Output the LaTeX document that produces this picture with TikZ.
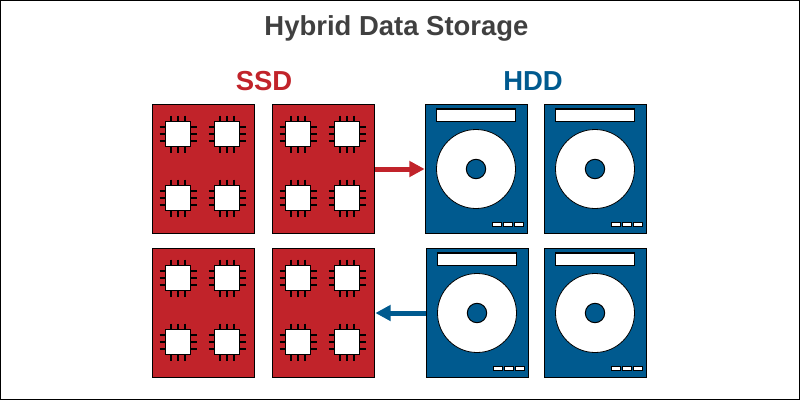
\documentclass[tikz,border=0pt]{standalone}
\usepackage{fontspec}
\setmainfont{Liberation Sans}
\usetikzlibrary{arrows.meta}
\definecolor{ssdred}{HTML}{C1232A}
\definecolor{hddblue}{HTML}{005A8F}
\definecolor{titlegray}{HTML}{404040}
\tikzset{
	ssdbox/.style={draw=black,line width=0.9pt,fill=ssdred,minimum width=76.5pt,minimum height=97pt,inner sep=0pt},
	hddbox/.style={draw=black,line width=0.9pt,fill=hddblue,minimum width=76.5pt,minimum height=97pt,inner sep=0pt},
	whitepart/.style={draw=black,line width=0.9pt,fill=white},
	headtext/.style={font=\bfseries\fontsize{20.6}{23}\selectfont},
	chip/.pic={
		\foreach \k in {-7,0,7} {
			\draw [line width=1.6pt] (\k,-18.5) -- (\k,18.5);
			\draw [line width=1.6pt] (-18.5,\k) -- (18.5,\k);
		}
		\draw [whitepart] (-12.5,-12.5) rectangle (12.5,12.5);
	},
	ssd/.pic={
		\foreach \a in {-25.5,23.5} {
			\foreach \b in {-35,29} {
				\pic at (\a,\b) {chip};
			}
		}
	},
	hdd/.pic={
		\draw [whitepart] (-40.2,-60) rectangle (39.2,-47.5);
		\draw [whitepart,line width=0.6pt] (-0.5,0) circle (39.5);
		\draw [draw=black,line width=0.75pt,fill=hddblue] (-0.5,0) circle (9.7);
		\draw [whitepart,line width=0.75pt] (16,53) rectangle (24.5,57.5);
		\draw [whitepart,line width=0.75pt] (27,53) rectangle (35.5,57.5);
		\draw [whitepart,line width=0.75pt] (38,53) rectangle (46.5,57.5);
	}
}
\begin{document}
\begin{tikzpicture}[line cap=butt,line join=miter,x=0.75pt,y=-0.75pt]
	\useasboundingbox (0,0) rectangle (800,400);
	\draw [line width=0.75pt] (0.5,0.5) rectangle (799.5,399.5);
	% Titles
	\node [headtext,text=titlegray] (title) at (396.5,28) {Hybrid Data Storage};
	\node [headtext,text=ssdred] (ssdlabel) at (264,81) {SSD};
	\node [headtext,text=hddblue] (hddlabel) at (533,81) {HDD};
	% SSD
	\node [ssdbox] (ssdA) at (203.5,169) {};
	\node [ssdbox] (ssdB) at (323.5,169) {};
	\node [ssdbox] (ssdC) at (203.5,313) {};
	\node [ssdbox] (ssdD) at (323.5,313) {};
	\foreach \n in {ssdA,ssdB,ssdC,ssdD} {
		\pic at (\n) {ssd};
	}
	% HDD
	\node [hddbox] (hddA) at (476.5,169) {};
	\node [hddbox] (hddB) at (595.5,169) {};
	\node [hddbox] (hddC) at (477.5,313) {};
	\node [hddbox] (hddD) at (595.5,313) {};
	\foreach \n in {hddA,hddB,hddC,hddD} {
		\pic at (\n) {hdd};
	}
	% Arrows
	\draw [ssdred,line width=3.75pt,-{Triangle[length=11.5pt,width=11.5pt]},shorten >=0.2pt] (ssdB) -- (hddA);
	\draw [hddblue,line width=3.75pt,-{Triangle[length=11.5pt,width=11.5pt]},shorten >=0.2pt] (hddC) -- (ssdD);
\end{tikzpicture}
\end{document}
